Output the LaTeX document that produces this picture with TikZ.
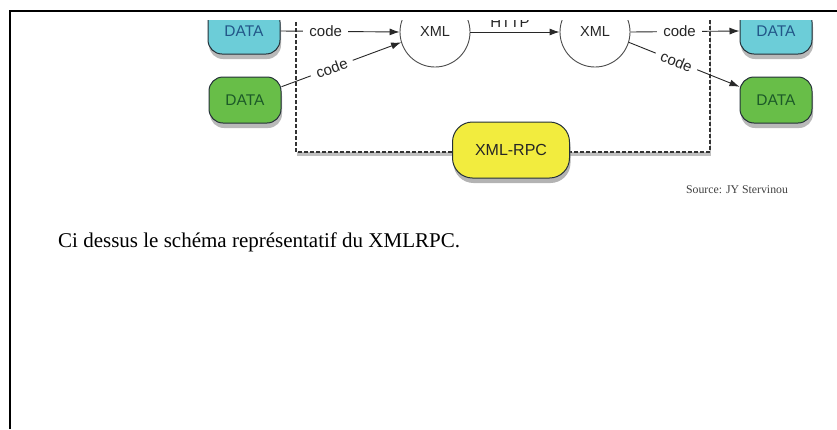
\documentclass[tikz,border=0pt]{standalone}
\usepackage{fontspec}
\setmainfont{Liberation Serif}
\newfontfamily\diagfont{Liberation Sans}
\usetikzlibrary{shadows,arrows.meta}
\definecolor{cyanfill}{RGB}{108,205,216}
\definecolor{cyantext}{RGB}{34,86,136}
\definecolor{greenfill}{RGB}{104,190,72}
\definecolor{greentext}{RGB}{28,90,40}
\definecolor{yellowfill}{RGB}{242,236,62}
\definecolor{edgedark}{RGB}{36,48,56}
\definecolor{linegray}{RGB}{40,40,40}
\tikzset{
  databox/.style={draw=edgedark, line width=1pt, rounded corners=14pt,
    minimum width=72pt, minimum height=46pt, inner sep=0pt,
    font=\diagfont\fontsize{15.5}{17}\selectfont,
    drop shadow={shadow xshift=1pt, shadow yshift=-5pt, opacity=0.55}},
  cyanbox/.style={databox, fill=cyanfill, text=cyantext},
  greenbox/.style={databox, fill=greenfill, text=greentext},
  xmlcircle/.style={circle, draw=black!70, line width=0.9pt, fill=white,
    minimum size=70pt, inner sep=0pt, text=black!85,
    font=\diagfont\fontsize{14.5}{16}\selectfont},
  conn/.style={draw=linegray, line width=0.9pt, -{Latex[length=10pt,width=7pt]}},
  codelabel/.style={fill=white, inner xsep=6pt, inner ysep=1pt, text=black!85,
    font=\diagfont\fontsize{15}{17}\selectfont},
  httplabel/.style={inner sep=0pt, text=black!85,
    font=\diagfont\fontsize{15}{17}\selectfont},
  rpcbox/.style={draw=edgedark, line width=1pt, fill=yellowfill, rounded corners=20pt,
    minimum width=117pt, minimum height=56pt, inner sep=0pt, text=black!85,
    font=\diagfont\fontsize{16}{18}\selectfont,
    drop shadow={shadow xshift=1pt, shadow yshift=-5pt, opacity=0.6}},
  frameline/.style={line width=2pt, black}
}
\begin{document}
\begin{tikzpicture}[x=1pt, y=-1pt]
\useasboundingbox (0,0) rectangle (837,429);
% page frame
\draw[frameline] (10,429) -- (10,11) -- (837,11);
\begin{scope}
\clip (196,20) rectangle (820,205);
% dashed enclosure
\path[fill=white, drop shadow={shadow xshift=1pt, shadow yshift=-4pt, opacity=0.5}]
  (296,-20) rectangle (710,152);
\draw[dashed, dash pattern=on 4pt off 2pt, line width=1.2pt, black!80]
  (296,-20) rectangle (710,152);
% data boxes
\node[cyanbox]  (dl1) at (244,31) {DATA};
\node[greenbox] (dl2) at (245,100) {DATA};
\node[cyanbox]  (dr1) at (776,31) {DATA};
\node[greenbox] (dr2) at (776,100) {DATA};
% XML circles
\node[xmlcircle] (xl) at (435,32) {XML};
\node[xmlcircle] (xr) at (595,32) {XML};
% connectors
\draw[conn] (dl1.east) -- node[codelabel, pos=0.38] {code} (xl.west);
\draw[conn] (dl2.20) -- node[codelabel, sloped, pos=0.42] {code} (xl.197);
\draw[conn] (xl.east) -- (xr.west);
\node[httplabel, anchor=base] (http) at (510,27) {HTTP};
\draw[conn] (xr.east) -- node[codelabel, pos=0.45] {code} (dr1.west);
\draw[conn] (xr.-17) -- node[codelabel, sloped, pos=0.43] {code} (dr2.160);
% XML-RPC
\node[rpcbox] (rpc) at (511,150) {XML-RPC};
\end{scope}
% captions
\node[anchor=base, font=\fontsize{11.8}{13}\selectfont, text=black!75] (src) at (737,193) {Source: JY Stervinou};
\node[anchor=base west, inner sep=0pt, font=\fontsize{21}{24}\selectfont] (cap) at (58,247) {Ci dessus le schéma représentatif du XMLRPC.};
\end{tikzpicture}
\end{document}
